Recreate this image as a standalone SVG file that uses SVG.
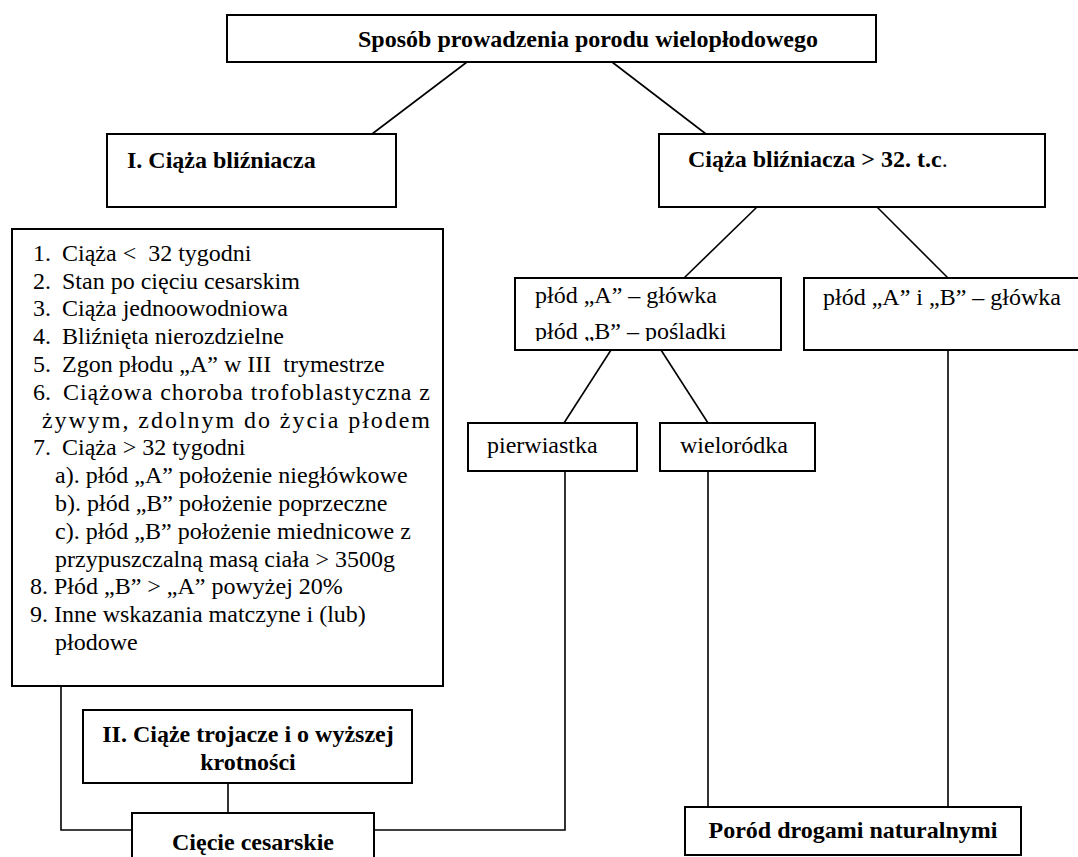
<svg xmlns="http://www.w3.org/2000/svg" width="1078" height="857" viewBox="0 0 1078 857">
<style>
.box{fill:#fff;stroke:#000;stroke-width:2}
#connectors line,#connectors polyline{stroke:#000;stroke-width:1.6;fill:none}
text{font-family:'Liberation Serif','Times New Roman','DejaVu Serif',serif;font-size:24px;fill:#000}
.b{font-weight:bold}
.m{text-anchor:middle}
</style>
<defs>
<clipPath id="clipA"><rect x="515" y="278" width="266" height="63"/></clipPath>
</defs>
<rect width="1078" height="857" fill="#fff"/>
<g id="connectors">
<line x1="467" y1="62" x2="372" y2="134"/>
<line x1="612" y1="62" x2="706" y2="134"/>
<line x1="757" y1="207" x2="684" y2="278"/>
<line x1="877" y1="207" x2="948" y2="278"/>
<line x1="611" y1="350" x2="564" y2="423"/>
<line x1="661" y1="350" x2="708" y2="423"/>
<polyline points="61,686 61,830 132,830"/>
<polyline points="565,471 565,830 374,830"/>
<line x1="228" y1="783" x2="228" y2="813"/>
<line x1="708" y1="471" x2="708" y2="807"/>
<line x1="948" y1="350" x2="948" y2="807"/>
</g>
<g font-family="Liberation Serif, Times New Roman, DejaVu Serif, serif">
<g id="title">
<rect class="box" x="227" y="15" width="649" height="47"/>
<text class="b" x="358" y="47">Sposób prowadzenia porodu wielopłodowego</text>
</g>
<g id="twin">
<rect class="box" x="107" y="134" width="289" height="73"/>
<text class="b" x="127" y="168">I. Ciąża bliźniacza</text>
</g>
<g id="twin32">
<rect class="box" x="659" y="134" width="386" height="73"/>
<text x="688" y="167"><tspan class="b">Ciąża bliźniacza &gt; 32. t.c</tspan>.</text>
</g>
<g id="indications">
<rect class="box" x="12" y="229" width="431" height="457"/>
<text x="33" y="260.7">1.</text><text x="62" y="260.7" xml:space="preserve">Ciąża &lt;  32 tygodni</text>
<text x="33" y="288.5">2.</text><text x="62" y="288.5">Stan po cięciu cesarskim</text>
<text x="33" y="316.3">3.</text><text x="62" y="316.3">Ciąża jednoowodniowa</text>
<text x="33" y="344.1">4.</text><text x="62" y="344.1">Bliźnięta nierozdzielne</text>
<text x="33" y="371.9">5.</text><text x="62" y="371.9" xml:space="preserve">Zgon płodu „A” w III  trymestrze</text>
<text x="33" y="399.7">6.</text><text x="63" y="399.7" textLength="367" lengthAdjust="spacing">Ciążowa choroba trofoblastyczna z</text>
<text x="42" y="427.5" textLength="388" lengthAdjust="spacing">żywym, zdolnym do życia płodem</text>
<text x="33" y="455.3">7.</text><text x="62" y="455.3">Ciąża &gt; 32 tygodni</text>
<text x="55" y="483.1">a). płód „A” położenie niegłówkowe</text>
<text x="55" y="510.9">b). płód „B” położenie poprzeczne</text>
<text x="55" y="538.7">c). płód „B” położenie miednicowe z</text>
<text x="55" y="566.5">przypuszczalną masą ciała &gt; 3500g</text>
<text x="30" y="594.3">8. Płód „B” &gt; „A” powyżej 20%</text>
<text x="30" y="622.1">9. Inne wskazania matczyne i (lub)</text>
<text x="55" y="649.9">płodowe</text>
</g>
<g id="headBreech">
<rect class="box" x="515" y="278" width="266" height="72"/>
<g clip-path="url(#clipA)">
<text x="535" y="303">płód „A” – główka</text>
<text x="535" y="339">płód „B” – pośladki</text>
</g>
</g>
<g id="headHead">
<rect class="box" x="804" y="278" width="280" height="72"/>
<text x="823" y="305">płód „A” i „B” – główka</text>
</g>
<g id="primipara">
<rect class="box" x="468" y="423" width="169" height="48"/>
<text x="487" y="453">pierwiastka</text>
</g>
<g id="multipara">
<rect class="box" x="660" y="423" width="155" height="48"/>
<text x="680" y="453">wieloródka</text>
</g>
<g id="triplets">
<rect class="box" x="83" y="710" width="329" height="73"/>
<text class="b m" x="248" y="742">II. Ciąże trojacze i o wyższej</text>
<text class="b m" x="248" y="770">krotności</text>
</g>
<g id="cesarean">
<rect class="box" x="132" y="813" width="242" height="60"/>
<text class="b m" x="253" y="850">Cięcie cesarskie</text>
</g>
<g id="natural">
<rect class="box" x="685" y="807" width="336" height="48"/>
<text class="b m" x="853" y="838">Poród drogami naturalnymi</text>
</g>
</g>
</svg>
